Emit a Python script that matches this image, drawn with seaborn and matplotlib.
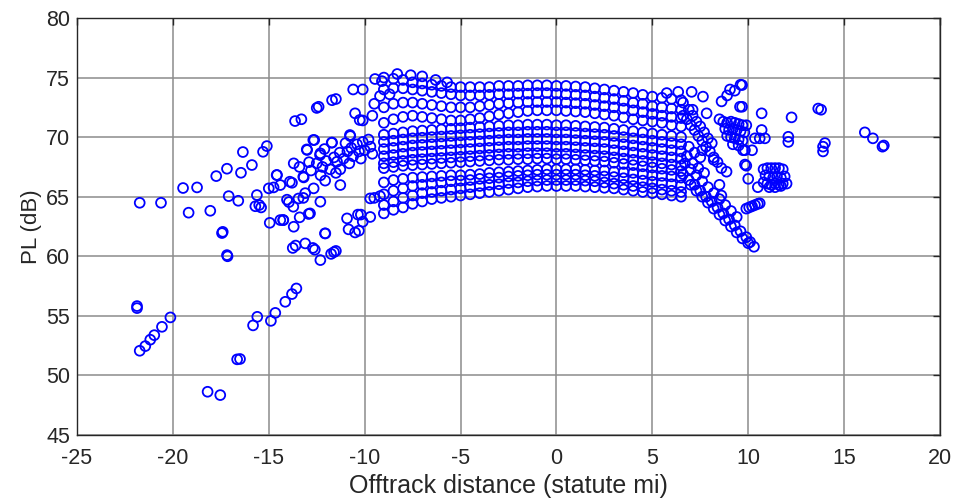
import numpy as np
import pandas as pd
import matplotlib
matplotlib.use("Agg")
import matplotlib.pyplot as plt
import seaborn as sns

# ---------------- data ----------------
arc_x = [-9.0, -8.5, -8.0, -7.5, -7.0, -6.5, -6.0, -5.5, -5.0, -4.5, -4.0, -3.5, -3.0, -2.5, -2.0, -1.5,
         -1.0, -0.5, 0.0, 0.5, 1.0, 1.5, 2.0, 2.5, 3.0, 3.5, 4.0, 4.5, 5.0, 5.5, 6.0, 6.5]

top_1 = [75.0, 74.9, 74.8, 74.6, 74.5, 74.4, 74.3, 74.2, 74.2, 74.2, 74.2, 74.2, 74.3, 74.3, 74.3, 74.35,
         74.35, 74.35, 74.3, 74.3, 74.25, 74.2, 74.1, 74.0, 73.9, 73.8, 73.7, 73.55, 73.4, 73.3, 73.2, 73.1]
top_2 = [74.0, 74.1, 74.1, 74.0, 73.9, 73.8, 73.7, 73.6, 73.5, 73.5, 73.5, 73.55, 73.6, 73.6, 73.65, 73.65,
         73.7, 73.7, 73.65, 73.6, 73.55, 73.5, 73.4, 73.3, 73.2, 73.05, 72.9, 72.8, 72.6, 72.5, 72.4, 72.3]
top_3 = [72.5, 72.8, 72.9, 72.9, 72.8, 72.7, 72.6, 72.5, 72.5, 72.5, 72.6, 72.7, 72.8, 72.85, 72.9, 72.95,
         72.95, 72.95, 72.95, 72.9, 72.85, 72.8, 72.7, 72.6, 72.5, 72.4, 72.25, 72.1, 71.95, 71.8, 71.7, 71.6]
top_4 = [71.2, 71.5, 71.7, 71.8, 71.7, 71.6, 71.5, 71.4, 71.4, 71.5, 71.6, 71.75, 71.9, 72.0, 72.1, 72.2,
         72.25, 72.25, 72.25, 72.2, 72.15, 72.1, 72.0, 71.9, 71.8, 71.65, 71.5, 71.4, 71.3, 71.2, 71.0, 70.9]

mid_1 = [70.2, 70.3, 70.4, 70.5, 70.55, 70.6, 70.65, 70.7, 70.75, 70.8, 70.85, 70.9, 70.95, 71.0, 71.0, 71.05,
         71.05, 71.05, 71.0, 71.0, 70.95, 70.9, 70.85, 70.8, 70.7, 70.6, 70.5, 70.4, 70.3, 70.2, 70.1, 70.0]
mid_2 = [69.6, 69.7, 69.8, 69.9, 69.95, 70.0, 70.05, 70.1, 70.15, 70.2, 70.25, 70.3, 70.35, 70.4, 70.4, 70.45,
         70.45, 70.45, 70.4, 70.4, 70.35, 70.3, 70.25, 70.2, 70.1, 70.0, 69.9, 69.8, 69.7, 69.6, 69.5, 69.4]
mid_3 = [69.0, 69.1, 69.2, 69.3, 69.35, 69.4, 69.45, 69.5, 69.55, 69.6, 69.65, 69.7, 69.75, 69.8, 69.8, 69.85,
         69.85, 69.85, 69.8, 69.8, 69.75, 69.7, 69.65, 69.6, 69.5, 69.4, 69.3, 69.2, 69.1, 69.0, 68.9, 68.8]
mid_4 = [68.4, 68.5, 68.6, 68.7, 68.75, 68.8, 68.85, 68.9, 68.95, 69.0, 69.05, 69.1, 69.15, 69.2, 69.2, 69.25,
         69.25, 69.25, 69.2, 69.2, 69.15, 69.1, 69.05, 69.0, 68.9, 68.8, 68.7, 68.6, 68.5, 68.4, 68.3, 68.2]
mid_5 = [67.8, 67.9, 68.0, 68.1, 68.15, 68.2, 68.25, 68.3, 68.35, 68.4, 68.45, 68.5, 68.55, 68.6, 68.6, 68.65,
         68.65, 68.65, 68.6, 68.6, 68.55, 68.5, 68.45, 68.4, 68.3, 68.2, 68.1, 68.0, 67.9, 67.8, 67.7, 67.6]
mid_6 = [67.4, 67.5, 67.6, 67.65, 67.7, 67.75, 67.8, 67.85, 67.9, 67.95, 68.0, 68.05, 68.1, 68.1, 68.15, 68.15,
         68.2, 68.2, 68.15, 68.15, 68.1, 68.05, 68.0, 67.95, 67.85, 67.75, 67.65, 67.55, 67.45, 67.35, 67.25, 67.15]

low_1 = [66.2, 66.4, 66.5, 66.6, 66.65, 66.7, 66.75, 66.8, 66.8, 66.85, 66.9, 67.0, 67.05, 67.1, 67.15, 67.2,
         67.25, 67.3, 67.3, 67.3, 67.3, 67.25, 67.2, 67.2, 67.1, 67.05, 67.0, 66.9, 66.8, 66.75, 66.7, 66.6]
low_2 = [65.2, 65.5, 65.7, 65.9, 66.0, 66.1, 66.2, 66.3, 66.35, 66.4, 66.5, 66.55, 66.6, 66.7, 66.75, 66.8,
         66.85, 66.85, 66.85, 66.85, 66.85, 66.8, 66.75, 66.7, 66.65, 66.55, 66.45, 66.35, 66.25, 66.15, 66.05, 65.95]
low_3 = [64.3, 64.6, 64.9, 65.1, 65.3, 65.4, 65.5, 65.6, 65.7, 65.8, 65.9, 66.0, 66.05, 66.15, 66.2, 66.3,
         66.35, 66.4, 66.4, 66.4, 66.4, 66.35, 66.3, 66.2, 66.1, 66.0, 65.9, 65.8, 65.7, 65.6, 65.5, 65.4]
low_4 = [63.6, 63.9, 64.1, 64.4, 64.6, 64.8, 64.9, 65.0, 65.1, 65.2, 65.3, 65.4, 65.5, 65.6, 65.7, 65.8,
         65.85, 65.9, 65.9, 65.9, 65.9, 65.85, 65.8, 65.75, 65.7, 65.6, 65.5, 65.4, 65.3, 65.2, 65.1, 65.0]

# descending streams on the right
stream1_x = [6.6, 6.9, 7.2, 7.5, 7.8, 8.1, 8.4, 8.7, 9.0, 9.3, 9.6, 9.9, 10.1]
stream1_y = [66.9, 66.4, 66.0, 65.5, 65.0, 64.6, 64.1, 63.6, 63.1, 62.6, 62.1, 61.6, 61.2]
stream2_x = [7.0, 7.3, 7.6, 7.9, 8.2, 8.5, 8.8, 9.1, 9.4, 9.7, 10.0, 10.3]
stream2_y = [66.0, 65.5, 65.0, 64.5, 64.0, 63.5, 63.0, 62.5, 62.0, 61.5, 61.1, 60.8]
stream3_x = [6.7, 7.0, 7.3, 7.6, 7.9, 8.2, 8.5, 8.8, 9.1, 9.4]
stream3_y = [67.8, 67.3, 66.8, 66.3, 65.8, 65.3, 64.8, 64.3, 63.8, 63.3]
upper1_x = [6.6, 6.8, 7.0, 7.2, 7.4, 7.6, 7.8, 8.0, 8.2, 8.4, 8.6]
upper1_y = [71.8, 71.5, 71.0, 70.6, 70.1, 69.7, 69.2, 68.8, 68.3, 67.9, 67.4]
upper2_x = [6.9, 7.1, 7.3, 7.5, 7.7, 7.9, 8.1]
upper2_y = [72.3, 71.8, 71.3, 70.9, 70.4, 69.9, 69.5]

# scattered points, left side
left_x = [-21.73, -20.62, -19.47, -18.74, -19.18, -18.05, -17.74, -17.18, -16.45, -16.35, -15.88, -15.3,
          -15.1, -17.09, -16.59, -17.44, -17.40, -17.18, -17.15, -21.87, -21.87, -21.73, -21.44, -21.18,
          -20.97, -20.57, -20.13, -18.19, -17.53, -16.65, -16.5, -15.82, -15.6, -14.89, -14.66, -14.14,
          -13.79, -13.56, -15.62, -15.7, -15.5, -15.4, -15.0, -14.75, -14.57, -14.95, -14.4, -14.25, -13.7,
          -13.39, -12.92, -14.05, -13.95, -13.79, -13.45, -13.2, -13.1, -13.18, -13.0, -12.63, -12.31,
          -12.31, -12.66, -12.06, -11.7, -11.27, -10.75, -10.26, -13.75, -13.6, -13.1, -12.7, -12.6, -12.31,
          -12.05, -11.75, -11.6, -11.5, -10.92, -10.5, -10.3, -10.84, -10.35, -10.2, -10.1, -9.71, -9.71,
          -11.44, -11.27, -13.63, -13.3, -12.5, -12.4, -11.7, -11.5, -10.6, -10.1, -9.46, -9.1, -9.2, -10.5,
          -10.1, -10.77, -12.68, -11.72, -13.02, -12.33, -14.59, -13.9, -13.2, -14.4, -13.72, -14.24, -12.85,
          -12.07, -9.2, -9.5,
          -12.8, -12.5, -12.2, -12.0, -11.8, -11.6, -11.3, -11.1, -10.9, -10.7, -10.6, -10.4, -10.3, -10.1,
          -10.0, -9.8, -9.7, -9.6, -10.2, -10.8, -11.5, -12.3, -12.9, -13.4, -13.7, -12.1, -11.0,
          -8.3, -7.6, -7.0, -6.3, -5.7, -8.7, -9.5, -9.6]
left_y = [64.49, 64.49, 65.73, 65.78, 63.66, 63.82, 66.73, 67.35, 67.01, 68.75, 67.66, 68.77,
          69.25, 65.05, 64.66, 61.95, 62.05, 60.1, 60.0, 55.82, 55.65, 52.07, 52.46, 53.0,
          53.38, 54.08, 54.87, 48.63, 48.35, 51.35, 51.38, 54.2, 54.92, 54.58, 55.25, 56.18,
          56.83, 57.3, 65.14, 64.2, 64.3, 64.1, 65.7, 65.78, 66.82, 62.81, 63.04, 63.04, 62.48,
          63.27, 63.55, 64.75, 64.55, 66.17, 64.85, 64.9, 65.3, 66.62, 68.92, 69.76, 68.64,
          64.58, 65.7, 66.35, 69.55, 65.98, 70.09, 71.44, 60.7, 60.9, 61.08, 60.7, 60.55, 59.68,
          61.92, 60.2, 60.35, 60.45, 63.18, 62.0, 62.15, 62.26, 63.5, 63.5, 62.9, 64.86, 63.3,
          67.94, 67.3, 71.35, 71.5, 72.45, 72.55, 73.1, 73.2, 74.0, 74.0, 74.88, 74.7, 73.45, 72.0,
          71.4, 70.18, 69.76, 69.53, 68.97, 68.5, 66.82, 66.26, 66.68, 65.98, 64.16, 63.04, 63.6,
          61.92, 65.05, 64.9,
          67.2, 67.8, 67.5, 68.0, 67.3, 68.3, 68.7, 68.2, 68.8, 69.1, 68.4, 69.4, 68.8, 69.6,
          68.9, 69.8, 69.2, 68.6, 68.2, 67.8, 67.0, 66.8, 67.9, 67.5, 67.8, 69.0, 69.5,
          75.3, 75.2, 75.1, 74.8, 74.6, 73.6, 72.8, 71.8]

# scattered points and clusters, right side
right_x = [9.68, 9.6, 9.05, 9.68, 10.7, 12.26, 13.65, 13.8, 10.7, 10.35, 10.6, 10.87, 12.09, 12.09, 14.0,
           13.9, 13.9, 16.08, 16.5, 17.07, 17.0, 9.83, 10.2, 9.9, 10.0, 10.5, 5.75, 6.35, 7.05, 7.64, 8.61,
           7.83, 8.5, 6.6, 7.1, 9.73, 9.83, 8.87, 8.5, 8.6, 8.2, 9.57, 8.9, 9.3,
           10.8, 11.0, 11.2, 11.4, 11.6, 11.8, 10.9, 11.1, 11.3, 11.5, 11.7, 11.9, 10.8, 11.0, 11.2, 11.4,
           11.6, 11.8, 12.0, 11.1, 11.4, 11.7,
           9.9, 10.05, 10.2, 10.35, 10.5, 10.6,
           8.7, 8.9, 9.1, 9.3, 9.5, 9.7, 8.8, 9.0, 9.2, 9.4, 9.6, 9.8, 8.9, 9.1, 9.3, 9.5, 9.7, 9.2, 9.5, 9.9,
           6.9, 7.2, 7.5, 7.1, 7.4, 7.7, 6.8, 7.6]
right_y = [74.37, 74.4, 74.0, 72.55, 72.0, 71.66, 72.4, 72.3, 70.6, 69.9, 69.9, 69.9, 70.03, 69.6, 69.5,
           69.2, 68.8, 70.4, 69.9, 69.3, 69.2, 68.9, 68.9, 67.6, 66.5, 65.8, 73.7, 73.8, 73.8, 73.4, 73.0,
           72.0, 71.5, 72.9, 72.3, 68.9, 67.7, 67.1, 66.0, 65.1, 68.1, 72.55, 73.5, 73.9,
           67.3, 67.4, 67.4, 67.4, 67.4, 67.3, 66.8, 66.7, 66.6, 66.7, 66.6, 66.7, 66.2, 66.1, 66.0, 66.1,
           66.0, 66.1, 66.1, 65.8, 65.8, 65.9,
           64.0, 64.1, 64.2, 64.3, 64.4, 64.45,
           71.3, 71.2, 71.3, 71.2, 71.1, 71.0, 70.7, 70.6, 70.7, 70.6, 70.5, 70.4, 70.1, 70.0, 69.9, 69.8,
           69.7, 69.4, 69.3, 71.0,
           69.2, 68.7, 68.3, 67.8, 67.4, 67.0, 68.4, 68.9]

x_ticks = [-25, -20, -15, -10, -5, 0, 5, 10, 15, 20]
y_ticks = [45, 50, 55, 60, 65, 70, 75, 80]

# ---------------- assemble ----------------
xs, ys = [], []
for arc in [top_1, top_2, top_3, top_4, mid_1, mid_2, mid_3, mid_4, mid_5, mid_6,
            low_1, low_2, low_3, low_4]:
    xs += arc_x
    ys += arc
for sx, sy in [(stream1_x, stream1_y), (stream2_x, stream2_y), (stream3_x, stream3_y),
               (upper1_x, upper1_y), (upper2_x, upper2_y), (left_x, left_y), (right_x, right_y)]:
    xs += sx
    ys += sy
df = pd.DataFrame({"Offtrack": xs, "PL": ys})

# ---------------- plot ----------------
sns.set_style("white")
plt.rcParams["font.family"] = ["Liberation Sans", "DejaVu Sans"]
plt.rcParams["axes.unicode_minus"] = False

fig = plt.figure(figsize=(9.58, 5.04), dpi=100)
ax = fig.add_axes([77 / 958, 1 - 435 / 504, (940 - 77) / 958, (435 - 18) / 504])

sns.scatterplot(data=df, x="Offtrack", y="PL", ax=ax, marker="o", s=50,
                facecolor="none", edgecolor="#0000ff", linewidth=1.3, zorder=3)

ax.set_xlim(-25, 20)
ax.set_ylim(45, 80)
ax.set_xticks(x_ticks)
ax.set_yticks(y_ticks)
ax.set_xticklabels([str(t) for t in x_ticks])
ax.set_yticklabels([str(t) for t in y_ticks])
ax.grid(True, color="#8c8c8c", linewidth=1.1, zorder=0)
ax.set_axisbelow(True)
for sp in ax.spines.values():
    sp.set_color("#262626")
    sp.set_linewidth(1.0)
ax.tick_params(direction="in", top=True, right=True, length=5, width=1,
               labelsize=15.5, colors="#262626", labelcolor="#262626")
ax.tick_params(axis="x", pad=9)
ax.tick_params(axis="y", pad=5)
ax.set_xlabel("Offtrack distance (statute mi)", fontsize=18, color="#262626", labelpad=4)
ax.set_ylabel("PL (dB)", fontsize=16, color="#262626", labelpad=3)

fig.savefig("out.png", dpi=100)
